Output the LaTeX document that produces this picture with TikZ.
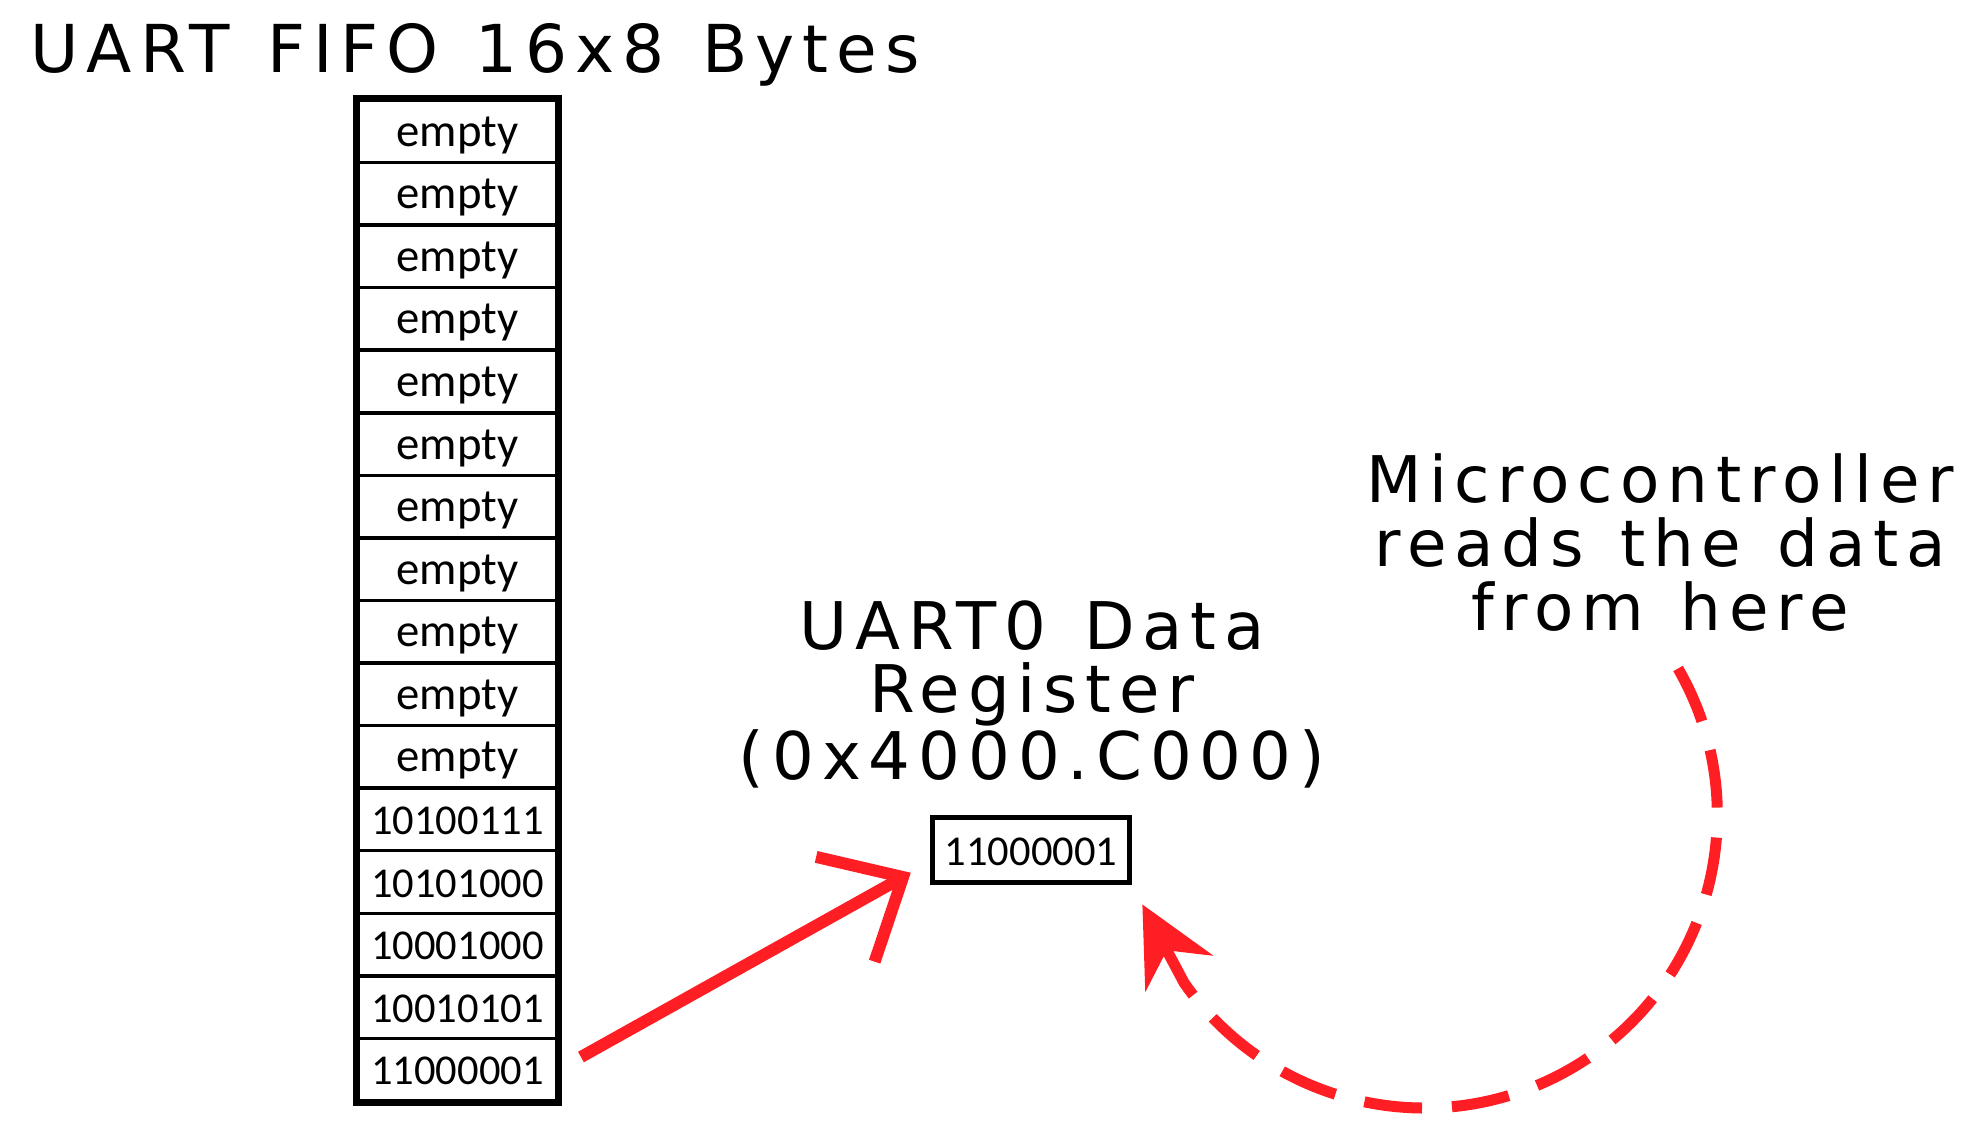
\documentclass[tikz,border=0pt]{standalone}
\usepackage{fontspec}
\usetikzlibrary{arrows.meta}
\newfontfamily\cellfont{Carlito}
\newfontfamily\labelfont[LetterSpace=12,WordSpace=1.3]{DejaVu Sans}
\definecolor{uartred}{RGB}{255,30,35}

\begin{document}
\begin{tikzpicture}
				\useasboundingbox (0,0) rectangle (19.78,-11.38);

				\node[anchor=base west, inner sep=0pt, font=\labelfont\fontsize{18.8}{17.9}\selectfont] (T) at (0.30,-0.73) {UART FIFO 16x8 Bytes};

				\begin{scope}[every node/.style={draw,line width=0.35mm,minimum width=1.98cm,minimum height=0.6256cm,inner sep=0pt,text height=3mm,text depth=0mm,font=\cellfont\fontsize{13.3}{14}\selectfont},
				bits/.style={font=\cellfont\fontsize{12.1}{14}\selectfont}]
                    \node (A) at (4.575,-1.313) {empty};
                    \node (B) at (4.575,-1.938) {empty};
                    \node (C) at (4.575,-2.564) {empty};
                    \node (D) at (4.575,-3.189) {empty};
                    \node (E) at (4.575,-3.815) {empty};
                    \node (F) at (4.575,-4.441) {empty};
                    \node (G) at (4.575,-5.066) {empty};
                    \node (H) at (4.575,-5.692) {empty};
                    \node (I) at (4.575,-6.317) {empty};
                    \node (J) at (4.575,-6.943) {empty};
                    \node (K) at (4.575,-7.569) {empty};
                    \node[bits] (L) at (4.575,-8.194) {10100111};
                    \node[bits] (M) at (4.575,-8.820) {10101000};
                    \node[bits] (N) at (4.575,-9.446) {10001000};
                    \node[bits] (O) at (4.575,-10.071) {10010101};
                    \node[bits] (P) at (4.575,-10.697) {11000001};
                    \node[bits,line width=0.5mm,minimum width=1.97cm,minimum height=0.65cm] (R) at (10.31,-8.50) {11000001};
                \end{scope}

                \draw[line width=0.7mm] (A.north west) rectangle (P.south east);

                \node[anchor=north, align=center, inner sep=0pt, font=\labelfont\fontsize{18.7}{17.9}\selectfont] (U) at (10.32,-6.004) {UART0 Data\\Register\\(0x4000.C000)};
                \node[anchor=north, align=center, inner sep=0pt, font=\labelfont\fontsize{18.3}{18.2}\selectfont] (V) at (16.60,-4.53) {Microcontroller\\reads the data\\from here};

                \coordinate (m1) at (16.78,-6.685);

                \begin{scope}[>={Straight Barb[length=6.6mm,width=12mm]},
                every edge/.style={draw=uartred,line width=1.2mm}]
                    \path [->] (P.east) edge[shorten <=2.6mm, shorten >=2.2mm] ([yshift=-1.2mm]R.west);
                \end{scope}

                \draw[uartred, line width=1.1mm, dash pattern=on 5.8mm off 3mm, -{Stealth[length=7.8mm,width=7.6mm,inset=2.6mm]}, shorten >=2.2mm] (m1) arc[start angle=30, end angle=-145, radius=2.93] -- (R.south east);
			\end{tikzpicture}
\end{document}
